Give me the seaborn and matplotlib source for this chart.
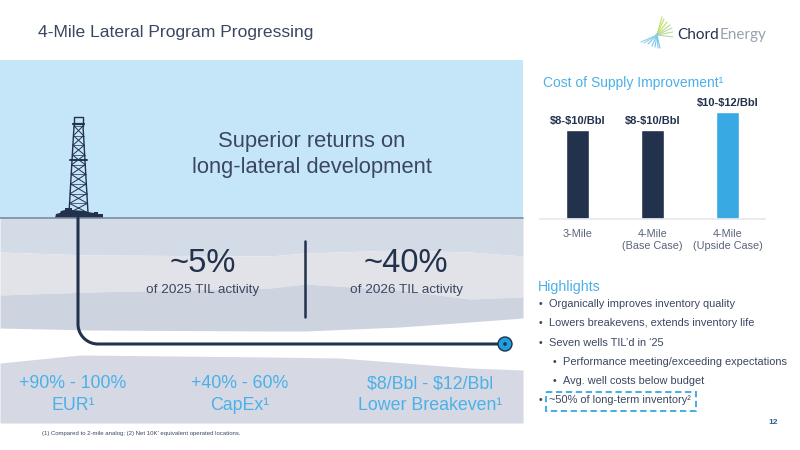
import matplotlib
matplotlib.use('Agg')
import matplotlib.pyplot as plt
from matplotlib.patches import Circle, Rectangle
import numpy as np
import pandas as pd
import seaborn as sns

# bar chart data
cases = ['3-Mile', '4-Mile\n(Base Case)', '4-Mile\n(Upside Case)']
improvement = [10, 10, 12]
bar_labels = [r'\$8-\$10/Bbl', r'\$8-\$10/Bbl', r'\$10-\$12/Bbl']
bar_colors = ['#22314c', '#22314c', '#39a9e3']

# text content
title = '4-Mile Lateral Program Progressing'
stat_values = ['~5%', '~40%']
stat_labels = ['of 2025 TIL activity', 'of 2026 TIL activity']
benefit_values = ['+90% - 100%', '+40% - 60%', r'\$8/Bbl - \$12/Bbl']
benefit_labels = ['EUR¹', 'CapEx¹', 'Lower Breakeven¹']
highlights = ['Organically improves inventory quality',
              'Lowers breakevens, extends inventory life',
              'Seven wells TIL’d in ‘25',
              'Performance meeting/exceeding expectations',
              'Avg. well costs below budget',
              '~50% of long-term inventory²']
highlight_level = [0, 0, 0, 1, 1, 0]

DARK = '#22314c'
TEXT = '#3b4760'
BLUE = '#4bb0e8'

sns.set_theme(style='white')
plt.rcParams['font.family'] = ['Liberation Sans', 'DejaVu Sans']

fig = plt.figure(figsize=(8, 4.5), dpi=100, facecolor='white')
bg = fig.add_axes([0, 0, 1, 1])
bg.set_xlim(0, 800)
bg.set_ylim(450, 0)
bg.axis('off')

# sky and ground layers
bg.add_patch(Rectangle((0, 60), 523, 158, color='#c5e5f8', lw=0))
x1 = [0, 90, 270, 305, 400, 470, 523]
top2 = [252, 255, 256, 253, 250, 252, 256]
top3 = [295, 292, 288, 284, 290, 299, 297]
bot3 = [328, 330, 331, 331, 327, 322, 318]
xs = np.linspace(0, 523, 200)
bg.fill_between(xs, 218, np.interp(xs, x1, top2), color='#d3dce6', lw=0)
bg.fill_between(xs, np.interp(xs, x1, top2), np.interp(xs, x1, top3), color='#e1e3e9', lw=0)
bg.fill_between(xs, np.interp(xs, x1, top3), np.interp(xs, x1, bot3), color='#cdd4e0', lw=0)
x2 = [0, 80, 270, 340, 470, 523]
top4 = [363, 355, 357, 358, 368, 370]
bg.fill_between(xs, np.interp(xs, x2, top4), 423, color='#d6d9e4', lw=0)
bg.plot([0, 523], [218, 218], color='#7a8a9c', lw=1.2)

# well path
t = np.linspace(0, np.pi / 2, 30)
path_x = np.r_[78, 78 + 20 * (1 - np.cos(t)), 505]
path_y = np.r_[218, 324 + 20 * np.sin(t), 344]
bg.plot(path_x, path_y, color=DARK, lw=2.2, solid_capstyle='round')
bg.add_patch(Circle((505, 344), 7, fc='#1e9fe0', ec=DARK, lw=1, zorder=4))
bg.add_patch(Circle((505, 344), 1.8, fc=DARK, lw=0, zorder=5))

# drilling rig
levels = np.linspace(126, 213, 10)
half = 4.5 + (levels - 126) / 87 * 5
for side in (-1, 1):
    bg.plot(78.5 + side * half, levels, color=DARK, lw=1)
for i in range(len(levels) - 1):
    bg.plot([78.5 - half[i], 78.5 + half[i + 1]], [levels[i], levels[i + 1]], color=DARK, lw=0.7)
    bg.plot([78.5 + half[i], 78.5 - half[i + 1]], [levels[i], levels[i + 1]], color=DARK, lw=0.7)
    bg.plot([78.5 - half[i], 78.5 + half[i]], [levels[i], levels[i]], color=DARK, lw=0.5)
bg.plot([74, 74, 83, 83], [126, 117, 117, 126], color=DARK, lw=1)
bg.plot([73, 84], [124, 124], color=DARK, lw=1.6)
bg.plot([70, 87], [160, 160], color=DARK, lw=1.4)
bg.fill([55, 56, 60, 61, 65, 65, 72, 72, 85, 88, 94, 94, 98, 98, 103, 103],
        [218, 214, 213, 211, 210, 208, 208, 210, 211, 212, 213, 212, 212, 214, 214, 218], color=DARK, lw=0)

# panel text
bg.text(312, 142, 'Superior returns on', ha='center', va='center', fontsize=15.8, color=TEXT)
bg.text(312, 167, 'long-lateral development', ha='center', va='center', fontsize=15.8, color=TEXT)
for cx, val, lab in zip([203, 406], stat_values, stat_labels):
    bg.text(cx, 264, val, ha='center', va='center', fontsize=23.5, color=DARK)
    bg.text(cx, 289.5, lab, ha='center', va='center', fontsize=9.7, color=TEXT)
bg.plot([305, 305], [241, 317], color=DARK, lw=1.8)
for cx, val, lab in zip([73, 240, 430], benefit_values, benefit_labels):
    bg.text(cx, 384, val, ha='center', va='center', fontsize=12.8, color=BLUE)
    bg.text(cx, 405, lab, ha='center', va='center', fontsize=12.8, color=BLUE)

bg.text(38, 33, title, ha='left', va='center', fontsize=12.6, color=TEXT)
bg.text(42, 434, "(1) Compared to 2-mile analog; (2) Net 10K' equivalent operated locations.",
        ha='left', va='center', fontsize=4.35, color=TEXT)
bg.text(773, 422, '12', ha='center', va='center', fontsize=6, weight='bold', color='#2f5f8f')

# logo
for ex, ey, c in [(662, 17, '#c4dc6a'), (664, 19, '#c4dc6a'), (667, 22, '#c4dc6a'), (670, 25, '#b9dc8c'),
                  (672, 28, '#b5dca0'), (673, 32, '#b5dca0'), (673, 37, '#b5dca0'),
                  (660, 48, '#7cc7e8'), (658, 48, '#7cc7e8'), (655, 47, '#7cc7e8'), (652, 46, '#7cc7e8'),
                  (648, 44, '#7cc7e8'), (644, 43, '#8ed0ec'), (641, 42, '#8ed0ec')]:
    bg.plot([ex, 657 - (ex - 657) * 0.08], [ey, 35 - (ey - 35) * 0.08], color=c, lw=0.8)
bg.text(677, 35, 'Chord', ha='left', va='center', fontsize=11, color=DARK, family=['Lato', 'DejaVu Sans'])
bg.text(719.5, 35, 'Energy', ha='left', va='center', fontsize=11, color='#9aa2b0',
        family=['Lato', 'DejaVu Sans'])

# right side text
bg.text(543, 83, 'Cost of Supply Improvement¹', ha='left', va='center', fontsize=10, color=BLUE)
bg.text(538, 287, 'Highlights', ha='left', va='center', fontsize=10.2, color=BLUE)
for y, line, level in zip([304, 323, 343, 362, 381, 400], highlights, highlight_level):
    bg.text(540 + level * 14.5, y, '•', ha='center', va='center', fontsize=7.5, color=TEXT)
    bg.text(549 + level * 14, y, line, ha='left', va='center', fontsize=7.95, color=TEXT)
bg.add_patch(Rectangle((546, 392), 150, 19, fill=False, ec='#35a8e0', lw=1.3, ls=(0, (3.5, 2))))

# bar chart
ax = fig.add_axes([540 / 800, 1 - 219 / 450, 225 / 800, 119 / 450])
ax.patch.set_alpha(0)
df = pd.DataFrame({'case': cases, 'improvement': improvement})
sns.barplot(data=df, x='case', y='improvement', hue='case', palette=bar_colors,
            width=0.315, saturation=1, legend=False, ax=ax)
ax.set_xlim(-0.5, 2.5)
ax.set_ylim(0, 13.34)
ax.set_xlabel('')
ax.set_ylabel('')
ax.set_yticks([])
for c, lab in zip(ax.containers, bar_labels):
    ax.bar_label(c, labels=[lab], padding=3, fontsize=8, weight='bold', color=DARK)
sns.despine(ax=ax, left=True)
ax.spines['bottom'].set_color('#e6e9f0')
ax.tick_params(axis='x', length=0, pad=7, labelsize=7.8, labelcolor='#59647a')
for lab in ax.get_xticklabels():
    lab.set_linespacing(1.25)

fig.savefig('out.png', dpi=100)
